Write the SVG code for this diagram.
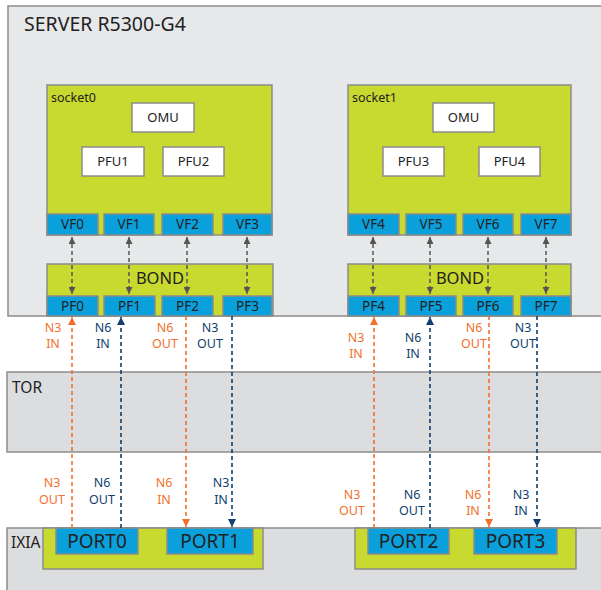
<svg xmlns="http://www.w3.org/2000/svg" width="601" height="590" viewBox="0 0 601 590">
  <style>
    .bg { fill: #ffffff; }
    .frame { fill: #e7e8ea; stroke: #8c8c8c; stroke-width: 1.5; }
    .zone { fill: #dcdddf; stroke: #8c8c8c; stroke-width: 1.5; }
    .green { fill: #c8d92f; stroke: #8c8c8c; stroke-width: 1.5; }
    .blue { fill: #0aa0dc; stroke: #8c8c8c; stroke-width: 1.5; }
    .white { fill: #ffffff; stroke: #8c8c8c; stroke-width: 1.5; }
    text { font-family: "Noto Sans", "Open Sans", sans-serif; fill: #222; }
    .title { font-size: 19.5px; }
    .zl { font-size: 15.5px; }
    .sock { font-size: 12.5px; }
    .unit { font-size: 13px; text-anchor: middle; }
    .vf { font-size: 13.5px; text-anchor: middle; }
    .bond { font-size: 16.5px; text-anchor: middle; }
    .port { font-size: 19px; text-anchor: middle; }
    .lbl { font-size: 12.5px; text-anchor: middle; }
    .or { fill: #f36f2c; }
    .nv { fill: #103f6e; }
    .gl { stroke: #555; stroke-width: 1.5; stroke-dasharray: 4 3; fill: none; }
    .ol { stroke: #f36f2c; stroke-width: 1.6; stroke-dasharray: 4 3; fill: none; }
    .nl { stroke: #103f6e; stroke-width: 1.6; stroke-dasharray: 4 3; fill: none; }
  </style>
  <defs>
    <marker id="ag" viewBox="0 0 10 10" refX="10" refY="5" markerWidth="7" markerHeight="7" markerUnits="userSpaceOnUse" orient="auto-start-reverse">
      <path d="M0,0 L10,5 L0,10 z" fill="#555"/>
    </marker>
    <marker id="ao" viewBox="0 0 10 10" refX="10" refY="5" markerWidth="8" markerHeight="8" markerUnits="userSpaceOnUse" orient="auto-start-reverse">
      <path d="M0,0 L10,5 L0,10 z" fill="#f36f2c"/>
    </marker>
    <marker id="an" viewBox="0 0 10 10" refX="10" refY="5" markerWidth="8" markerHeight="8" markerUnits="userSpaceOnUse" orient="auto-start-reverse">
      <path d="M0,0 L10,5 L0,10 z" fill="#103f6e"/>
    </marker>
  </defs>

  <rect class="bg" x="0" y="0" width="601" height="590"/>

  <!-- server chassis -->
  <g id="server">
    <rect class="frame" x="8" y="6" width="600" height="310"/>
    <text class="title" x="24" y="31">SERVER R5300-G4</text>
  </g>

  <!-- top-of-rack switch -->
  <g id="tor">
    <rect class="zone" x="7" y="372" width="600" height="80"/>
    <text class="zl" x="12" y="393">TOR</text>
  </g>

  <!-- traffic generator -->
  <g id="ixia">
    <rect class="zone" x="7" y="528" width="600" height="70"/>
    <text class="zl" x="11" y="548">IXIA</text>
  </g>

  <!-- socket 0 -->
  <g id="socket0">
    <rect class="green" x="47" y="85" width="225" height="150"/>
    <text class="sock" x="51" y="102">socket0</text>
    <rect class="white" x="132" y="103" width="62" height="29"/>
    <text class="unit" x="163" y="122">OMU</text>
    <rect class="white" x="82" y="147" width="62" height="29"/>
    <text class="unit" x="113" y="166">PFU1</text>
    <rect class="white" x="163" y="147" width="61" height="29"/>
    <text class="unit" x="193.5" y="166">PFU2</text>
    <rect class="blue" x="47" y="214" width="51" height="21"/>
    <text class="vf" x="72.5" y="229">VF0</text>
    <rect class="blue" x="104" y="214" width="50" height="21"/>
    <text class="vf" x="129" y="229">VF1</text>
    <rect class="blue" x="162" y="214" width="51" height="21"/>
    <text class="vf" x="187.5" y="229">VF2</text>
    <rect class="blue" x="223" y="214" width="49" height="21"/>
    <text class="vf" x="247.5" y="229">VF3</text>
  </g>

  <!-- socket 1 -->
  <g id="socket1">
    <rect class="green" x="348" y="85" width="223" height="150"/>
    <text class="sock" x="352" y="102">socket1</text>
    <rect class="white" x="433" y="103" width="61" height="29"/>
    <text class="unit" x="463.5" y="122">OMU</text>
    <rect class="white" x="383" y="147" width="61" height="29"/>
    <text class="unit" x="413.5" y="166">PFU3</text>
    <rect class="white" x="479" y="147" width="61" height="29"/>
    <text class="unit" x="509.5" y="166">PFU4</text>
    <rect class="blue" x="348" y="214" width="51" height="21"/>
    <text class="vf" x="373.5" y="229">VF4</text>
    <rect class="blue" x="406" y="214" width="50" height="21"/>
    <text class="vf" x="431" y="229">VF5</text>
    <rect class="blue" x="463" y="214" width="50" height="21"/>
    <text class="vf" x="488" y="229">VF6</text>
    <rect class="blue" x="521" y="214" width="50" height="21"/>
    <text class="vf" x="546" y="229">VF7</text>
  </g>

  <!-- bond 0 -->
  <g id="bond0">
    <rect class="green" x="47" y="264" width="226" height="52"/>
    <text class="bond" x="160" y="284">BOND</text>
    <rect class="blue" x="47" y="296" width="51" height="20"/>
    <text class="vf" x="72.5" y="311">PF0</text>
    <rect class="blue" x="104" y="296" width="51" height="20"/>
    <text class="vf" x="129.5" y="311">PF1</text>
    <rect class="blue" x="162" y="296" width="51" height="20"/>
    <text class="vf" x="187.5" y="311">PF2</text>
    <rect class="blue" x="223" y="296" width="49" height="20"/>
    <text class="vf" x="247.5" y="311">PF3</text>
  </g>

  <!-- bond 1 -->
  <g id="bond1">
    <rect class="green" x="348" y="264" width="223" height="52"/>
    <text class="bond" x="460" y="284">BOND</text>
    <rect class="blue" x="348" y="296" width="51" height="20"/>
    <text class="vf" x="373.5" y="311">PF4</text>
    <rect class="blue" x="406" y="296" width="50" height="20"/>
    <text class="vf" x="431" y="311">PF5</text>
    <rect class="blue" x="463" y="296" width="50" height="20"/>
    <text class="vf" x="488" y="311">PF6</text>
    <rect class="blue" x="521" y="296" width="50" height="20"/>
    <text class="vf" x="546" y="311">PF7</text>
  </g>

  <!-- ixia ports -->
  <g id="ixia-card0">
    <rect class="green" x="43" y="528" width="220" height="41"/>
    <rect class="blue" x="56" y="528" width="82" height="26"/>
    <text class="port" x="97" y="548">PORT0</text>
    <rect class="blue" x="167" y="528" width="86" height="26"/>
    <text class="port" x="210" y="548">PORT1</text>
  </g>
  <g id="ixia-card1">
    <rect class="green" x="355" y="528" width="221" height="41"/>
    <rect class="blue" x="368" y="528" width="81" height="26"/>
    <text class="port" x="408.5" y="548">PORT2</text>
    <rect class="blue" x="474" y="528" width="83" height="26"/>
    <text class="port" x="515.5" y="548">PORT3</text>
  </g>

  <!-- connectors -->
  <g id="connectors">
    <!-- VF <-> PF -->
    <line class="gl" x1="72" y1="237" x2="72" y2="294" marker-start="url(#ag)" marker-end="url(#ag)"/>
    <line class="gl" x1="129" y1="237" x2="129" y2="294" marker-start="url(#ag)" marker-end="url(#ag)"/>
    <line class="gl" x1="187" y1="237" x2="187" y2="294" marker-start="url(#ag)" marker-end="url(#ag)"/>
    <line class="gl" x1="247" y1="237" x2="247" y2="294" marker-start="url(#ag)" marker-end="url(#ag)"/>
    <line class="gl" x1="373" y1="237" x2="373" y2="294" marker-start="url(#ag)" marker-end="url(#ag)"/>
    <line class="gl" x1="430" y1="237" x2="430" y2="294" marker-start="url(#ag)" marker-end="url(#ag)"/>
    <line class="gl" x1="488" y1="237" x2="488" y2="294" marker-start="url(#ag)" marker-end="url(#ag)"/>
    <line class="gl" x1="546" y1="237" x2="546" y2="294" marker-start="url(#ag)" marker-end="url(#ag)"/>

    <!-- PF <-> PORT traffic -->
    <line class="ol" x1="72" y1="528" x2="72" y2="317" marker-end="url(#ao)"/>
    <line class="nl" x1="121" y1="528" x2="121" y2="317" marker-end="url(#an)"/>
    <line class="ol" x1="186" y1="316" x2="186" y2="527" marker-end="url(#ao)"/>
    <line class="nl" x1="232" y1="316" x2="232" y2="527" marker-end="url(#an)"/>
    <line class="ol" x1="374" y1="528" x2="374" y2="317" marker-end="url(#ao)"/>
    <line class="nl" x1="430" y1="528" x2="430" y2="317" marker-end="url(#an)"/>
    <line class="ol" x1="489" y1="316" x2="489" y2="527" marker-end="url(#ao)"/>
    <line class="nl" x1="537" y1="316" x2="537" y2="527" marker-end="url(#an)"/>

    <!-- labels -->
    <text class="lbl or" x="53" y="332">N3</text><text class="lbl or" x="53" y="348">IN</text>
    <text class="lbl nv" x="103" y="332">N6</text><text class="lbl nv" x="103" y="348">IN</text>
    <text class="lbl or" x="165" y="332">N6</text><text class="lbl or" x="165" y="348">OUT</text>
    <text class="lbl nv" x="210" y="332">N3</text><text class="lbl nv" x="210" y="348">OUT</text>

    <text class="lbl or" x="356" y="342">N3</text><text class="lbl or" x="356" y="358">IN</text>
    <text class="lbl nv" x="413" y="342">N6</text><text class="lbl nv" x="413" y="358">IN</text>
    <text class="lbl or" x="474" y="332">N6</text><text class="lbl or" x="474" y="348">OUT</text>
    <text class="lbl nv" x="523" y="332">N3</text><text class="lbl nv" x="523" y="348">OUT</text>

    <text class="lbl or" x="52" y="487">N3</text><text class="lbl or" x="52" y="504">OUT</text>
    <text class="lbl nv" x="102" y="487">N6</text><text class="lbl nv" x="102" y="504">OUT</text>
    <text class="lbl or" x="164" y="487">N6</text><text class="lbl or" x="164" y="504">IN</text>
    <text class="lbl nv" x="221" y="487">N3</text><text class="lbl nv" x="221" y="504">IN</text>

    <text class="lbl or" x="352" y="499">N3</text><text class="lbl or" x="352" y="515">OUT</text>
    <text class="lbl nv" x="412" y="499">N6</text><text class="lbl nv" x="412" y="515">OUT</text>
    <text class="lbl or" x="473" y="499">N6</text><text class="lbl or" x="473" y="515">IN</text>
    <text class="lbl nv" x="521" y="499">N3</text><text class="lbl nv" x="521" y="515">IN</text>
  </g>
</svg>
